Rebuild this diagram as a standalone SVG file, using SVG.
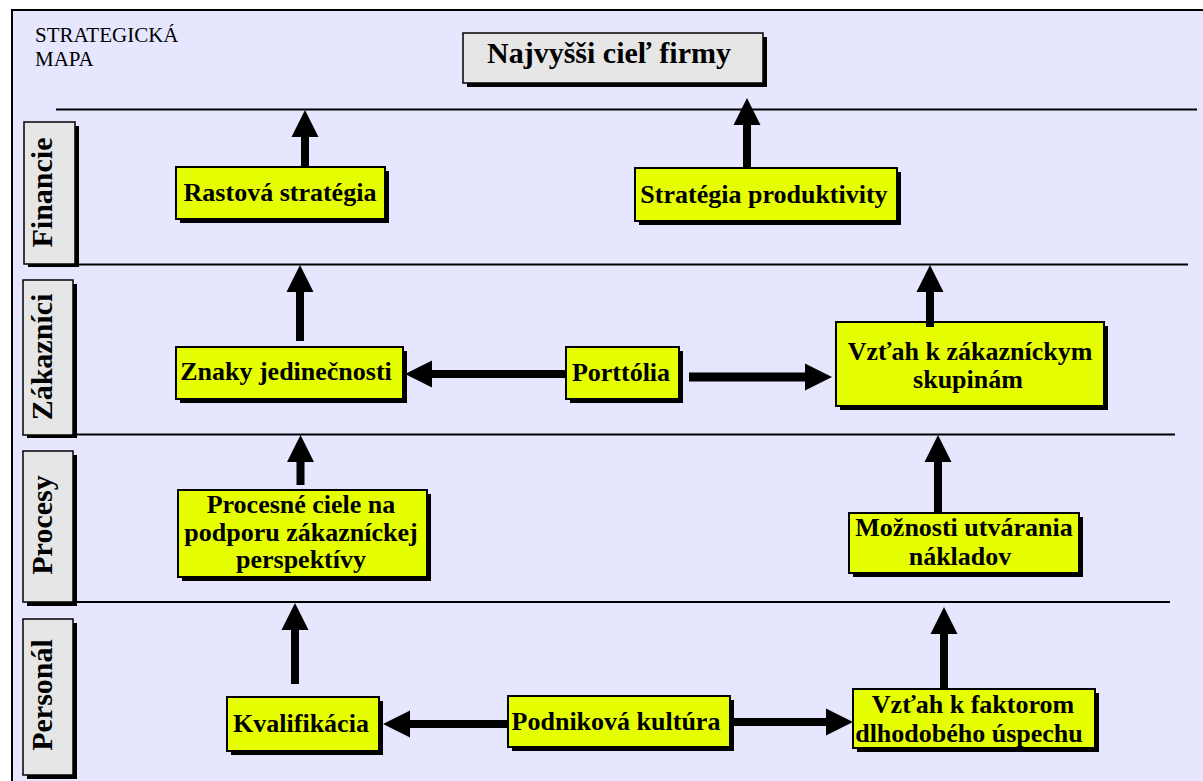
<svg xmlns="http://www.w3.org/2000/svg" width="1203" height="781" viewBox="0 0 1203 781">
<defs>
<style>
.frame{fill:#E6E6FF;stroke:#000;stroke-width:2}
.sep{stroke:#000;stroke-width:2;fill:none}
.shadow{fill:#000}
.gray{fill:#E6E6E6;stroke:#000;stroke-width:1.5}
.yel{fill:#E6FF00;stroke:#000;stroke-width:2}
.t{font-family:"Liberation Serif","Times New Roman",serif;font-weight:bold;fill:#000;text-anchor:middle}
.b26{font-size:26px}
.side{font-size:30px}
.title{font-size:30px}
.corner{font-family:"Liberation Serif","Times New Roman",serif;font-size:21px;fill:#000}
.arr{stroke:#000;stroke-width:8;fill:none;marker-end:url(#head)}
</style>
<marker id="head" markerUnits="userSpaceOnUse" markerWidth="28" markerHeight="28" refX="0" refY="13.5" orient="auto" viewBox="0 0 28 27">
<path d="M0,0 L27,13.5 L0,27 Z" fill="#000"/>
</marker>
</defs>

<rect class="frame" x="12" y="10" width="1200" height="780"/>

<g id="corner-label">
<text class="corner" x="35" y="42">STRATEGICKÁ</text>
<text class="corner" x="35" y="66">MAPA</text>
</g>

<g id="separators">
<line class="sep" x1="56" y1="109.5" x2="1197" y2="109.5"/>
<line class="sep" x1="40" y1="264.5" x2="1188" y2="264.5"/>
<line class="sep" x1="40" y1="434.5" x2="1175" y2="434.5"/>
<line class="sep" x1="40" y1="602" x2="1170" y2="602"/>
</g>

<g id="lane-financie">
<rect class="shadow" x="28" y="126" width="51" height="141"/>
<rect class="gray" x="24" y="122" width="51" height="142"/>
<text class="t side" transform="translate(52,192.5) rotate(-90)">Financie</text>
</g>
<g id="lane-zakaznici">
<rect class="shadow" x="27" y="284" width="50" height="154"/>
<rect class="gray" x="23" y="280" width="50" height="155"/>
<text class="t side" transform="translate(52,357) rotate(-90)">Zákazníci</text>
</g>
<g id="lane-procesy">
<rect class="shadow" x="27" y="455" width="50" height="151"/>
<rect class="gray" x="23" y="451" width="50" height="151"/>
<text class="t side" transform="translate(52,525) rotate(-90)">Procesy</text>
</g>
<g id="lane-personal">
<rect class="shadow" x="27" y="623" width="50" height="156"/>
<rect class="gray" x="23" y="619" width="50" height="156"/>
<text class="t side" transform="translate(52,695) rotate(-90)">Personál</text>
</g>

<g id="top-goal">
<rect class="shadow" x="467" y="37" width="300" height="50"/>
<rect class="gray" x="463" y="33" width="300" height="50"/>
<text class="t title" x="609" y="63">Najvyšši cieľ firmy</text>
</g>

<g id="rastova">
<rect class="shadow" x="180" y="171" width="209" height="52"/>
<rect class="yel" x="176" y="167" width="209" height="52"/>
<text class="t b26" x="280" y="201">Rastová stratégia</text>
</g>
<g id="produktivita">
<rect class="shadow" x="639" y="172" width="262" height="53"/>
<rect class="yel" x="635" y="168" width="262" height="53"/>
<text class="t b26" x="764" y="203">Stratégia produktivity</text>
</g>

<g id="znaky">
<rect class="shadow" x="180" y="351" width="227" height="52"/>
<rect class="yel" x="176" y="347" width="227" height="52"/>
<text class="t b26" x="286" y="380">Znaky jedinečnosti</text>
</g>
<g id="portfolia">
<rect class="shadow" x="570" y="351" width="113" height="52"/>
<rect class="yel" x="566" y="347" width="113" height="52"/>
<text class="t b26" x="621" y="381">Porttólia</text>
</g>
<g id="vztah-zakaznici">
<rect class="shadow" x="840" y="326" width="268" height="84"/>
<rect class="yel" x="836" y="322" width="268" height="84"/>
<text class="t b26" x="970" y="360">Vzťah k zákazníckym</text>
<text class="t b26" x="968" y="388">skupinám</text>
</g>

<g id="procesne">
<rect class="shadow" x="182" y="494" width="249" height="87"/>
<rect class="yel" x="178" y="490" width="249" height="87"/>
<text class="t b26" x="301" y="513">Procesné ciele na</text>
<text class="t b26" x="301" y="541">podporu zákazníckej</text>
<text class="t b26" x="301" y="568">perspektívy</text>
</g>
<g id="moznosti">
<rect class="shadow" x="853" y="517" width="230" height="60"/>
<rect class="yel" x="849" y="513" width="230" height="60"/>
<text class="t b26" x="964" y="536">Možnosti utvárania</text>
<text class="t b26" x="960" y="565">nákladov</text>
</g>

<g id="kvalifikacia">
<rect class="shadow" x="231" y="701" width="152" height="54"/>
<rect class="yel" x="227" y="697" width="152" height="54"/>
<text class="t b26" x="301" y="732">Kvalifikácia</text>
</g>
<g id="podnikova">
<rect class="shadow" x="512" y="700" width="222" height="51"/>
<rect class="yel" x="508" y="696" width="222" height="51"/>
<text class="t b26" x="616" y="730">Podniková kultúra</text>
</g>
<g id="vztah-faktory">
<rect class="shadow" x="857" y="693" width="242" height="59"/>
<rect class="yel" x="853" y="689" width="242" height="59"/>
<text class="t b26" x="973" y="713">Vzťah k faktorom</text>
<text class="t b26" x="969" y="742">dlhodobého úspechu</text>
</g>

<g id="connectors">
<line class="arr" x1="305" y1="167" x2="305" y2="137"/>
<line class="arr" x1="747" y1="168" x2="747" y2="125"/>
<line class="arr" x1="300" y1="341" x2="300" y2="292"/>
<line class="arr" x1="930" y1="327" x2="930" y2="292"/>
<line class="arr" x1="566" y1="374" x2="432" y2="374"/>
<line class="arr" x1="689" y1="377" x2="805" y2="377" style="stroke-width:9"/>
<line class="arr" x1="300.5" y1="485" x2="300.5" y2="462"/>
<line class="arr" x1="938" y1="513" x2="938" y2="462"/>
<line class="arr" x1="295" y1="684" x2="295" y2="630"/>
<line class="arr" x1="944" y1="689" x2="944" y2="634"/>
<line class="arr" x1="508" y1="724" x2="410" y2="724"/>
<line class="arr" x1="730" y1="722" x2="826" y2="722"/>
</g>
</svg>
